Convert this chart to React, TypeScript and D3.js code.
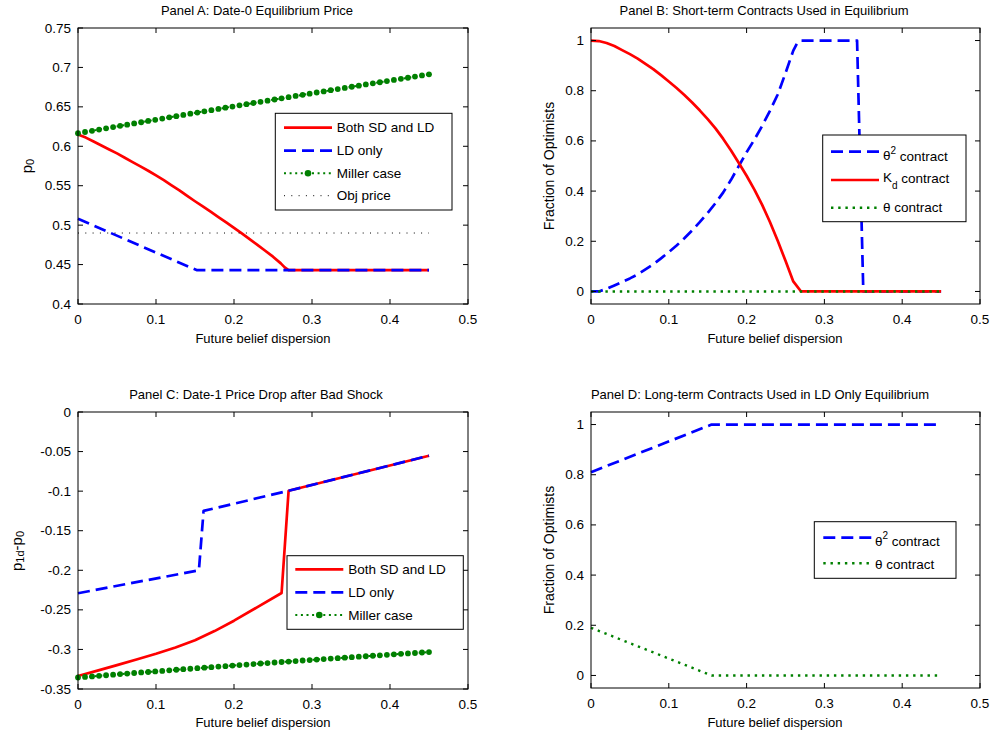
import React from 'react';
import * as d3 from 'd3';

const FONT = "'Liberation Sans', Arial, Helvetica, sans-serif";

const xTicks = [0, 0.1, 0.2, 0.3, 0.4, 0.5];
const xTickLabels = ['0', '0.1', '0.2', '0.3', '0.4', '0.5'];
const aYTicks = [0.4, 0.45, 0.5, 0.55, 0.6, 0.65, 0.7, 0.75];
const aYTickLabels = ['0.4', '0.45', '0.5', '0.55', '0.6', '0.65', '0.7', '0.75'];
const fracTicks = [0, 0.2, 0.4, 0.6, 0.8, 1];
const fracTickLabels = ['0', '0.2', '0.4', '0.6', '0.8', '1'];
const cYTicks = [-0.35, -0.3, -0.25, -0.2, -0.15, -0.1, -0.05, 0];
const cYTickLabels = ['-0.35', '-0.3', '-0.25', '-0.2', '-0.15', '-0.1', '-0.05', '0'];

// Miller case (markers)
const millerX = [0, 0.009, 0.018, 0.027, 0.036, 0.045, 0.054, 0.063, 0.072, 0.081, 0.09, 0.099, 0.108, 0.117, 0.126, 0.135, 0.144, 0.153, 0.162, 0.171, 0.18, 0.189, 0.198, 0.207, 0.216, 0.225, 0.234, 0.243, 0.252, 0.261, 0.27, 0.279, 0.288, 0.297, 0.306, 0.315, 0.324, 0.333, 0.342, 0.351, 0.36, 0.369, 0.378, 0.387, 0.396, 0.405, 0.414, 0.423, 0.432, 0.441, 0.45];
const millerA = [0.6165, 0.6181, 0.6196, 0.6212, 0.6228, 0.6243, 0.6259, 0.6274, 0.629, 0.6305, 0.6321, 0.6336, 0.6352, 0.6367, 0.6382, 0.6398, 0.6413, 0.6428, 0.6443, 0.6458, 0.6474, 0.6489, 0.6504, 0.6519, 0.6534, 0.6549, 0.6564, 0.6578, 0.6593, 0.6608, 0.6623, 0.6638, 0.6652, 0.6667, 0.6682, 0.6696, 0.6711, 0.6726, 0.674, 0.6755, 0.6769, 0.6784, 0.6798, 0.6812, 0.6827, 0.6841, 0.6855, 0.6869, 0.6884, 0.6898, 0.6912];
const millerC = [-0.3355, -0.3348, -0.3341, -0.3334, -0.3326, -0.3319, -0.3312, -0.3305, -0.3298, -0.3291, -0.3285, -0.3278, -0.3271, -0.3264, -0.3257, -0.325, -0.3244, -0.3237, -0.323, -0.3224, -0.3217, -0.3211, -0.3204, -0.3198, -0.3191, -0.3185, -0.3178, -0.3172, -0.3165, -0.3159, -0.3153, -0.3147, -0.314, -0.3134, -0.3128, -0.3122, -0.3116, -0.311, -0.3104, -0.3098, -0.3092, -0.3086, -0.308, -0.3074, -0.3068, -0.3062, -0.3056, -0.3051, -0.3045, -0.3039, -0.3034];

// Panel A
const aBothX = [0, 0.01, 0.02, 0.03, 0.04, 0.05, 0.06, 0.07, 0.08, 0.09, 0.1, 0.11, 0.12, 0.13, 0.14, 0.15, 0.16, 0.17, 0.18, 0.19, 0.2, 0.21, 0.22, 0.23, 0.24, 0.25, 0.26, 0.265, 0.27, 0.45];
const aBothY = [0.615, 0.611, 0.606, 0.601, 0.596, 0.591, 0.5855, 0.58, 0.5745, 0.569, 0.563, 0.557, 0.5505, 0.544, 0.537, 0.5303, 0.5237, 0.517, 0.5103, 0.5035, 0.4965, 0.4895, 0.4823, 0.475, 0.4675, 0.46, 0.4515, 0.4465, 0.443, 0.443];
const aLdX = [0, 0.152, 0.45];
const aLdY = [0.508, 0.443, 0.443];
const aObjX = [0, 0.45];
const aObjY = [0.49, 0.49];

// Panel B
const bTheta2X = [0, 0.01, 0.02, 0.03, 0.04, 0.05, 0.06, 0.07, 0.08, 0.09, 0.1, 0.11, 0.12, 0.13, 0.14, 0.15, 0.16, 0.17, 0.18, 0.19, 0.2, 0.21, 0.22, 0.23, 0.24, 0.25, 0.26, 0.265, 0.27, 0.342, 0.35, 0.45];
const bTheta2Y = [0, 0, 0.01, 0.024, 0.038, 0.052, 0.068, 0.088, 0.108, 0.132, 0.157, 0.183, 0.212, 0.243, 0.277, 0.313, 0.352, 0.395, 0.445, 0.5, 0.555, 0.605, 0.66, 0.72, 0.785, 0.87, 0.96, 0.99, 1, 1, 0, 0];
const bKdX = [0, 0.01, 0.02, 0.03, 0.04, 0.05, 0.06, 0.07, 0.08, 0.09, 0.1, 0.11, 0.12, 0.13, 0.14, 0.15, 0.16, 0.17, 0.18, 0.19, 0.2, 0.21, 0.22, 0.23, 0.24, 0.25, 0.26, 0.27, 0.45];
const bKdY = [1, 0.998, 0.99, 0.978, 0.962, 0.946, 0.928, 0.907, 0.886, 0.862, 0.837, 0.811, 0.783, 0.753, 0.721, 0.687, 0.65, 0.608, 0.562, 0.512, 0.461, 0.406, 0.345, 0.277, 0.202, 0.122, 0.04, 0, 0];
const bThetaX = [0, 0.45];
const bThetaY = [0, 0];

// Panel C
const cBothX = [0, 0.025, 0.05, 0.075, 0.1, 0.125, 0.15, 0.175, 0.2, 0.23, 0.261, 0.27, 0.45];
const cBothY = [-0.3335, -0.3268, -0.3198, -0.3128, -0.3055, -0.2975, -0.2885, -0.2768, -0.2637, -0.2465, -0.2287, -0.0995, -0.0552];
const cLdX = [0, 0.155, 0.161, 0.27, 0.45];
const cLdY = [-0.229, -0.2, -0.125, -0.0995, -0.0552];

// Panel D
const dTheta2X = [0, 0.155, 0.45];
const dTheta2Y = [0.81, 1, 1];
const dThetaX = [0, 0.155, 0.45];
const dThetaY = [0.19, 0, 0];

const RED = '#ff0000';
const BLUE = '#0000ff';
const GREEN = '#008000';

type Series = { x: number[]; y: number[]; color: string; width: number; dash?: string; marker?: boolean };

type PanelProps = {
  l: number; r: number; t: number; b: number;
  yDomain: [number, number];
  yTicks: number[]; yLabels: string[];
  series: Series[];
};

function Panel({ l, r, t, b, yDomain, yTicks, yLabels, series }: PanelProps) {
  const xs = d3.scaleLinear().domain([0, 0.5]).range([l, r]);
  const ys = d3.scaleLinear().domain(yDomain).range([b, t]);
  const line = d3.line<[number, number]>().x(d => xs(d[0])).y(d => ys(d[1]));
  const TL = 5;
  return (
    <g>
      {series.map((s, i) => {
        const pts = s.x.map((x, j) => [x, s.y[j]] as [number, number]);
        return (
          <g key={i}>
            <path d={line(pts) || ''} fill="none" stroke={s.color} strokeWidth={s.width}
              strokeDasharray={s.dash} strokeLinejoin="round" />
            {s.marker && pts.map((p, j) => (
              <circle key={j} cx={xs(p[0])} cy={ys(p[1])} r={2.9} fill={s.color} />
            ))}
          </g>
        );
      })}
      <rect x={l} y={t} width={r - l} height={b - t} fill="none" stroke="#000" strokeWidth={1} />
      {xTicks.map((v, i) => (
        <g key={'x' + i}>
          <line x1={xs(v)} x2={xs(v)} y1={b} y2={b - TL} stroke="#000" />
          <line x1={xs(v)} x2={xs(v)} y1={t} y2={t + TL} stroke="#000" />
          <text x={xs(v)} y={b + 15} textAnchor="middle" dominantBaseline="central"
            fontSize={13.5} fontFamily={FONT} fill="#000">{xTickLabels[i]}</text>
        </g>
      ))}
      {yTicks.map((v, i) => (
        <g key={'y' + i}>
          <line x1={l} x2={l + TL} y1={ys(v)} y2={ys(v)} stroke="#000" />
          <line x1={r} x2={r - TL} y1={ys(v)} y2={ys(v)} stroke="#000" />
          <text x={l - 7} y={ys(v)} textAnchor="end" dominantBaseline="central"
            fontSize={13.5} fontFamily={FONT} fill="#000">{yLabels[i]}</text>
        </g>
      ))}
    </g>
  );
}

function Sample({ x1, x2, y, color, width, dash, marker }: { x1: number; x2: number; y: number; color: string; width: number; dash?: string; marker?: boolean }) {
  return (
    <g>
      <line x1={x1} x2={x2} y1={y} y2={y} stroke={color} strokeWidth={width} strokeDasharray={dash} />
      {marker && <circle cx={(x1 + x2) / 2} cy={y} r={3.3} fill={color} />}
    </g>
  );
}

const T = (props: any) => <text fontFamily={FONT} fill="#000" {...props} />;

export default function App() {
  const solid = { width: 2.7 };
  const dashed = { width: 2.7, dash: '12,6' };
  const dotted = { width: 2.4, dash: '2.4,4.8' };
  const millerStyle = { width: 2, dash: '2,3.6' };
  const LF = 13.5;
  return (
    <svg width={992} height={738} style={{ position: 'absolute', left: 0, top: 0 }}>
      <rect x={0} y={0} width={992} height={738} fill="#fff" />

      {/* Panel A */}
      <Panel l={78} r={468} t={28} b={304} yDomain={[0.4, 0.75]} yTicks={aYTicks} yLabels={aYTickLabels}
        series={[
          { x: aBothX, y: aBothY, color: RED, ...solid },
          { x: aLdX, y: aLdY, color: BLUE, ...dashed },
          { x: millerX, y: millerA, color: GREEN, ...millerStyle, marker: true },
          { x: aObjX, y: aObjY, color: '#000', width: 1, dash: '1,6.3' },
        ]} />
      <T x={257} y={10} textAnchor="middle" dominantBaseline="central" fontSize={13}>Panel A:  Date-0 Equilibrium Price</T>
      <T x={263} y={338} textAnchor="middle" dominantBaseline="central" fontSize={13}>Future belief  dispersion</T>
      <T transform="translate(26,166) rotate(-90)" textAnchor="middle" dominantBaseline="central" fontSize={15}>
        p<tspan fontSize={11} dy={4}>0</tspan>
      </T>
      <g>
        <rect x={275.3} y={113.3} width={176.7} height={96.7} fill="#fff" stroke="#000" />
        <Sample x1={284} x2={332} y={127.7} color={RED} {...solid} />
        <Sample x1={284} x2={332} y={150.7} color={BLUE} {...dashed} />
        <Sample x1={284} x2={332} y={173.3} color={GREEN} {...millerStyle} marker />
        <Sample x1={284} x2={332} y={195.7} color="#000" width={1} dash="1,6.3" />
        <T x={336.7} y={127.7} dominantBaseline="central" fontSize={LF}>Both SD and LD</T>
        <T x={336.7} y={150.7} dominantBaseline="central" fontSize={LF}>LD only</T>
        <T x={336.7} y={173.3} dominantBaseline="central" fontSize={LF}>Miller case</T>
        <T x={336.7} y={195.7} dominantBaseline="central" fontSize={LF}>Obj price</T>
      </g>

      {/* Panel B */}
      <Panel l={591} r={980} t={28} b={304} yDomain={[-0.05, 1.05]} yTicks={fracTicks} yLabels={fracTickLabels}
        series={[
          { x: bTheta2X, y: bTheta2Y, color: BLUE, ...dashed },
          { x: bKdX, y: bKdY, color: RED, ...solid },
          { x: bThetaX, y: bThetaY, color: GREEN, ...dotted },
        ]} />
      <T x={764} y={10} textAnchor="middle" dominantBaseline="central" fontSize={13}>Panel B:  Short-term Contracts Used in Equilibrium</T>
      <T x={775} y={338} textAnchor="middle" dominantBaseline="central" fontSize={13}>Future belief  dispersion</T>
      <T transform="translate(549,166) rotate(-90)" textAnchor="middle" dominantBaseline="central" fontSize={14}>Fraction of Optimists</T>
      <g>
        <rect x={822.7} y={135} width={143.3} height={86.7} fill="#fff" stroke="#000" />
        <Sample x1={831} x2={879} y={151.7} color={BLUE} {...dashed} />
        <Sample x1={831} x2={879} y={180} color={RED} {...solid} />
        <Sample x1={831} x2={879} y={207.7} color={GREEN} {...dotted} />
        <T x={883} y={155.5} dominantBaseline="central" fontSize={LF}>θ<tspan fontSize={10} dy={-6}>2</tspan><tspan dy={6}>{' contract'}</tspan></T>
        <T x={883} y={177.5} dominantBaseline="central" fontSize={LF}>K<tspan fontSize={10} dy={7}>d</tspan><tspan dy={-7}>{' contract'}</tspan></T>
        <T x={883} y={207.7} dominantBaseline="central" fontSize={LF}>θ contract</T>
      </g>

      {/* Panel C */}
      <Panel l={78} r={468} t={412} b={689} yDomain={[-0.35, 0]} yTicks={cYTicks} yLabels={cYTickLabels}
        series={[
          { x: cBothX, y: cBothY, color: RED, ...solid },
          { x: cLdX, y: cLdY, color: BLUE, ...dashed },
          { x: millerX, y: millerC, color: GREEN, ...millerStyle, marker: true },
        ]} />
      <T x={256} y={394} textAnchor="middle" dominantBaseline="central" fontSize={13}>Panel C:  Date-1 Price Drop after Bad Shock</T>
      <T x={263} y={722} textAnchor="middle" dominantBaseline="central" fontSize={13}>Future belief  dispersion</T>
      <T transform="translate(16,551) rotate(-90)" textAnchor="middle" dominantBaseline="central" fontSize={15}>
        p<tspan fontSize={11} dy={4}>1d</tspan><tspan dy={-4}>-p</tspan><tspan fontSize={11} dy={4}>0</tspan>
      </T>
      <g>
        <rect x={287} y={555.7} width={176.3} height={73.6} fill="#fff" stroke="#000" />
        <Sample x1={295.3} x2={343.3} y={569.3} color={RED} {...solid} />
        <Sample x1={295.3} x2={343.3} y={592.3} color={BLUE} {...dashed} />
        <Sample x1={295.3} x2={343.3} y={615} color={GREEN} {...millerStyle} marker />
        <T x={348.3} y={569.3} dominantBaseline="central" fontSize={LF}>Both SD and LD</T>
        <T x={348.3} y={592.3} dominantBaseline="central" fontSize={LF}>LD only</T>
        <T x={348.3} y={615} dominantBaseline="central" fontSize={LF}>Miller case</T>
      </g>

      {/* Panel D */}
      <Panel l={591} r={980} t={412} b={688} yDomain={[-0.05, 1.05]} yTicks={fracTicks} yLabels={fracTickLabels}
        series={[
          { x: dTheta2X, y: dTheta2Y, color: BLUE, ...dashed },
          { x: dThetaX, y: dThetaY, color: GREEN, ...dotted },
        ]} />
      <T x={760} y={394} textAnchor="middle" dominantBaseline="central" fontSize={13}>Panel D:  Long-term Contracts Used in LD Only Equilibrium</T>
      <T x={775} y={722} textAnchor="middle" dominantBaseline="central" fontSize={13}>Future belief  dispersion</T>
      <T transform="translate(549,550) rotate(-90)" textAnchor="middle" dominantBaseline="central" fontSize={14}>Fraction of Optimists</T>
      <g>
        <rect x={814.3} y={521.7} width={141.7} height={56.6} fill="#fff" stroke="#000" />
        <Sample x1={823.3} x2={871.7} y={537.7} color={BLUE} {...dashed} />
        <Sample x1={823.3} x2={871.7} y={563.3} color={GREEN} {...dotted} />
        <T x={875} y={541} dominantBaseline="central" fontSize={LF}>θ<tspan fontSize={10} dy={-6}>2</tspan><tspan dy={6}>{' contract'}</tspan></T>
        <T x={875} y={564.5} dominantBaseline="central" fontSize={LF}>θ contract</T>
      </g>
    </svg>
  );
}
